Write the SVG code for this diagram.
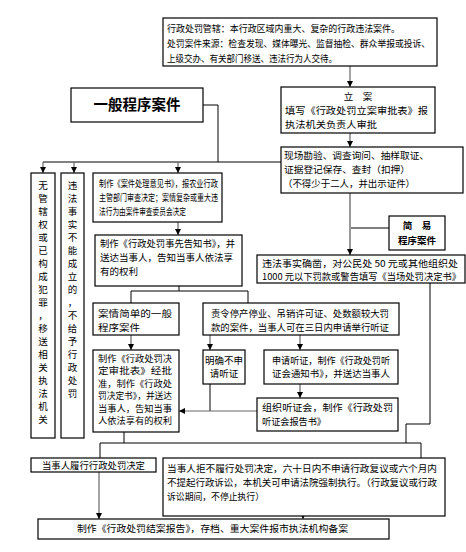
<svg xmlns="http://www.w3.org/2000/svg" width="466" height="552" viewBox="0 0 466 552">
<defs>
<marker id="ah" viewBox="0 0 6 6" refX="6" refY="3" markerWidth="6" markerHeight="6" markerUnits="userSpaceOnUse" orient="auto">
<path d="M0,0 L6,3 L0,6 z" fill="#000"/>
</marker>
</defs>
<style>
.b{fill:#fff;stroke:#000;stroke-width:1.2}
text{font-family:"Noto Sans CJK SC","Noto Sans",sans-serif;font-size:9.5px;fill:#000}
.bold{font-weight:bold}
.c{text-anchor:middle}
.s9{font-size:8.8px}
.ln{fill:none;stroke:#000;stroke-width:1}
.ar{fill:none;stroke:#666;stroke-width:1.2;marker-end:url(#ah)}
.gr{fill:none;stroke:#999;stroke-width:2;marker-end:url(#ah)}
</style>
<rect width="466" height="552" fill="#fff"/>

<g id="connectors">
<path class="ar" d="M350,66 V87"/>
<path class="ar" d="M350,133 V147"/>
<path class="ln" d="M203,105 H218 V162"/>
<path class="ln" d="M43,162 H281"/>
<path class="ar" d="M43,162 V173"/>
<path class="ar" d="M74,162 V173"/>
<path class="ar" d="M178,162 V173"/>
<path class="ar" d="M178,222 V235"/>
<path class="ln" d="M179,286 V291 M131,291 H248 M131,291 V303 M248,291 V303"/>
<path class="ar" d="M131,335 V350"/>
<path class="ar" d="M210,335 V350"/>
<path class="ar" d="M300,335 V350"/>
<path class="ar" d="M300,384 V398"/>
<path class="ln" d="M210,384 V411"/>
<path class="ar" d="M257,411 H179"/>
<path class="gr" d="M350,193 V255"/>
<path class="ln" d="M389,228 H351"/>
<path class="ln" d="M430,282 V424 H406 V443"/>
<path class="ln" d="M124,432 V443 M100,443 H421 M100,443 V458 M421,443 V458"/>
<path class="ar" d="M99,472 V519"/>
<path class="ar" d="M303,516 V519"/>
</g>

<g id="n-top">
<rect class="b" x="163" y="18" width="274" height="48"/>
<text x="167" y="32" textLength="233" lengthAdjust="spacingAndGlyphs">行政处罚管辖：本行政区域内重大、复杂的行政违法案件。</text>
<text x="167" y="47" textLength="263" lengthAdjust="spacingAndGlyphs">处罚案件来源：检查发现、媒体曝光、监督抽检、群众举报或投诉、</text>
<text x="167" y="62" textLength="170" lengthAdjust="spacingAndGlyphs">上级交办、有关部门移送、违法行为人交待。</text>
</g>

<g id="n-lian">
<rect class="b" x="281" y="87" width="154" height="46"/>
<text class="c" x="358" y="100">立　案</text>
<text x="285" y="114" textLength="143" lengthAdjust="spacingAndGlyphs">填写《行政处罚立案审批表》报</text>
<text x="285" y="128" textLength="92" lengthAdjust="spacingAndGlyphs">执法机关负责人审批</text>
</g>

<g id="n-general">
<rect class="b" x="71" y="88" width="132" height="34"/>
<text class="c bold" x="137" y="110" style="font-size:14.5px">一般程序案件</text>
</g>

<g id="n-xianchang">
<rect class="b" x="281" y="147" width="182" height="46"/>
<text x="284" y="159" textLength="145" lengthAdjust="spacingAndGlyphs">现场勘验、调查询问、抽样取证、</text>
<text x="284" y="173" textLength="126" lengthAdjust="spacingAndGlyphs">证据登记保存、查封（扣押）</text>
<text x="283" y="187" textLength="132" lengthAdjust="spacingAndGlyphs">（不得少于二人，并出示证件）</text>
</g>

<g id="n-wuguanxia">
<rect class="b" x="31" y="173" width="24" height="265"/>
<text class="c" x="43" y="189"><tspan x="43">无</tspan><tspan x="43" dy="13">管</tspan><tspan x="43" dy="13">辖</tspan><tspan x="43" dy="13">权</tspan><tspan x="43" dy="13">或</tspan><tspan x="43" dy="13">已</tspan><tspan x="43" dy="13">构</tspan><tspan x="43" dy="13">成</tspan><tspan x="43" dy="13">犯</tspan><tspan x="43" dy="13">罪</tspan><tspan x="43" dy="13">，</tspan><tspan x="43" dy="13">移</tspan><tspan x="43" dy="13">送</tspan><tspan x="43" dy="13">相</tspan><tspan x="43" dy="13">关</tspan><tspan x="43" dy="13">执</tspan><tspan x="43" dy="13">法</tspan><tspan x="43" dy="13">机</tspan><tspan x="43" dy="13">关</tspan></text>
</g>

<g id="n-weifa">
<rect class="b" x="61" y="173" width="23" height="265"/>
<text class="c" x="72.5" y="189"><tspan x="72.5">违</tspan><tspan x="72.5" dy="13">法</tspan><tspan x="72.5" dy="13">事</tspan><tspan x="72.5" dy="13">实</tspan><tspan x="72.5" dy="13">不</tspan><tspan x="72.5" dy="13">能</tspan><tspan x="72.5" dy="13">成</tspan><tspan x="72.5" dy="13">立</tspan><tspan x="72.5" dy="13">的</tspan><tspan x="72.5" dy="13">，</tspan><tspan x="72.5" dy="13">不</tspan><tspan x="72.5" dy="13">给</tspan><tspan x="72.5" dy="13">予</tspan><tspan x="72.5" dy="13">行</tspan><tspan x="72.5" dy="13">政</tspan><tspan x="72.5" dy="13">处</tspan><tspan x="72.5" dy="13">罚</tspan></text>
</g>

<g id="n-yijianshu">
<rect class="b" x="93" y="173" width="129" height="49"/>
<text x="99" y="187" textLength="119" lengthAdjust="spacingAndGlyphs">制作《案件处理意见书》，报农业行政</text>
<text x="99" y="201" textLength="119" lengthAdjust="spacingAndGlyphs">主管部门审查决定；案情复杂或重大违</text>
<text x="99" y="215" textLength="87" lengthAdjust="spacingAndGlyphs">法行为由案件审查委员会决定</text>
</g>

<g id="n-gaozhi">
<rect class="b" x="95" y="235" width="147" height="51"/>
<text x="100" y="247" textLength="135" lengthAdjust="spacingAndGlyphs">制作《行政处罚事先告知书》，并</text>
<text x="100" y="261" textLength="133" lengthAdjust="spacingAndGlyphs">送达当事人，告知当事人依法享</text>
<text x="100" y="275" textLength="38" lengthAdjust="spacingAndGlyphs">有的权利</text>
</g>

<g id="n-jiandan">
<rect class="b" x="93" y="303" width="86" height="32"/>
<text x="98" y="317" textLength="74" lengthAdjust="spacingAndGlyphs">案情简单的一般</text>
<text x="98" y="331" textLength="42" lengthAdjust="spacingAndGlyphs">程序案件</text>
</g>

<g id="n-jueding">
<rect class="b" x="93" y="350" width="86" height="82"/>
<text class="s9" x="98" y="361.5" textLength="74" lengthAdjust="spacingAndGlyphs">制作《行政处罚决</text>
<text class="s9" x="98" y="374" textLength="74" lengthAdjust="spacingAndGlyphs">定审批表》经批</text>
<text class="s9" x="98" y="386.5" textLength="74" lengthAdjust="spacingAndGlyphs">准，制作《行政处</text>
<text class="s9" x="98" y="399" textLength="74" lengthAdjust="spacingAndGlyphs">罚决定书》，并送达</text>
<text class="s9" x="98" y="411.5" textLength="74" lengthAdjust="spacingAndGlyphs">当事人，告知当事</text>
<text class="s9" x="98" y="424" textLength="74" lengthAdjust="spacingAndGlyphs">人依法享有的权利</text>
</g>

<g id="n-zeling">
<rect class="b" x="203" y="303" width="196" height="32"/>
<text x="211" y="317" textLength="178" lengthAdjust="spacingAndGlyphs">责令停产停业、吊销许可证、处数额较大罚</text>
<text x="211" y="331" textLength="178" lengthAdjust="spacingAndGlyphs">款的案件，当事人可在三日内申请举行听证</text>
</g>

<g id="n-buting">
<rect class="b" x="203" y="350" width="42" height="34"/>
<text class="c" x="224" y="364">明确不申</text>
<text class="c" x="224" y="377">请听证</text>
</g>

<g id="n-shenqing">
<rect class="b" x="264" y="350" width="134" height="34"/>
<text x="272" y="364" textLength="118" lengthAdjust="spacingAndGlyphs">申请听证，制作《行政处罚听</text>
<text x="272" y="377" textLength="118" lengthAdjust="spacingAndGlyphs">证会通知书》，并送达当事人</text>
</g>

<g id="n-zuzhi">
<rect class="b" x="257" y="398" width="141" height="33"/>
<text x="262" y="411" textLength="131" lengthAdjust="spacingAndGlyphs">组织听证会，制作《行政处罚</text>
<text x="262" y="425" textLength="64" lengthAdjust="spacingAndGlyphs">听证会报告书》</text>
</g>

<g id="n-jianyi">
<rect class="b" x="389" y="216" width="56" height="34"/>
<text class="c bold" x="417" y="229">简　易</text>
<text class="c bold" x="417" y="244">程序案件</text>
</g>

<g id="n-dangchang">
<rect class="b" x="257" y="255" width="208" height="28"/>
<text x="262" y="267" textLength="196" lengthAdjust="spacingAndGlyphs">违法事实确凿，对公民处 50 元或其他组织处</text>
<text x="262" y="280" textLength="199" lengthAdjust="spacingAndGlyphs">1000 元以下罚款或警告填写《当场处罚决定书》</text>
</g>

<g id="n-lvxing">
<rect class="b" x="31" y="458" width="125" height="14"/>
<text x="42" y="469" textLength="103" lengthAdjust="spacingAndGlyphs">当事人履行行政处罚决定</text>
</g>

<g id="n-jubu">
<rect class="b" x="163" y="458" width="282" height="58"/>
<text x="167" y="472" textLength="270" lengthAdjust="spacingAndGlyphs">当事人拒不履行处罚决定，六十日内不申请行政复议或六个月内</text>
<text x="167" y="486" textLength="270" lengthAdjust="spacingAndGlyphs">不提起行政诉讼，本机关可申请法院强制执行。（行政复议或行政</text>
<text x="167" y="500" textLength="97" lengthAdjust="spacingAndGlyphs">诉讼期间，不停止执行）</text>
</g>

<g id="n-jiean">
<rect class="b" x="38" y="519" width="351" height="20"/>
<text x="77" y="532" textLength="271" lengthAdjust="spacingAndGlyphs">制作《行政处罚结案报告》，存档、重大案件报市执法机构备案</text>
</g>
</svg>
